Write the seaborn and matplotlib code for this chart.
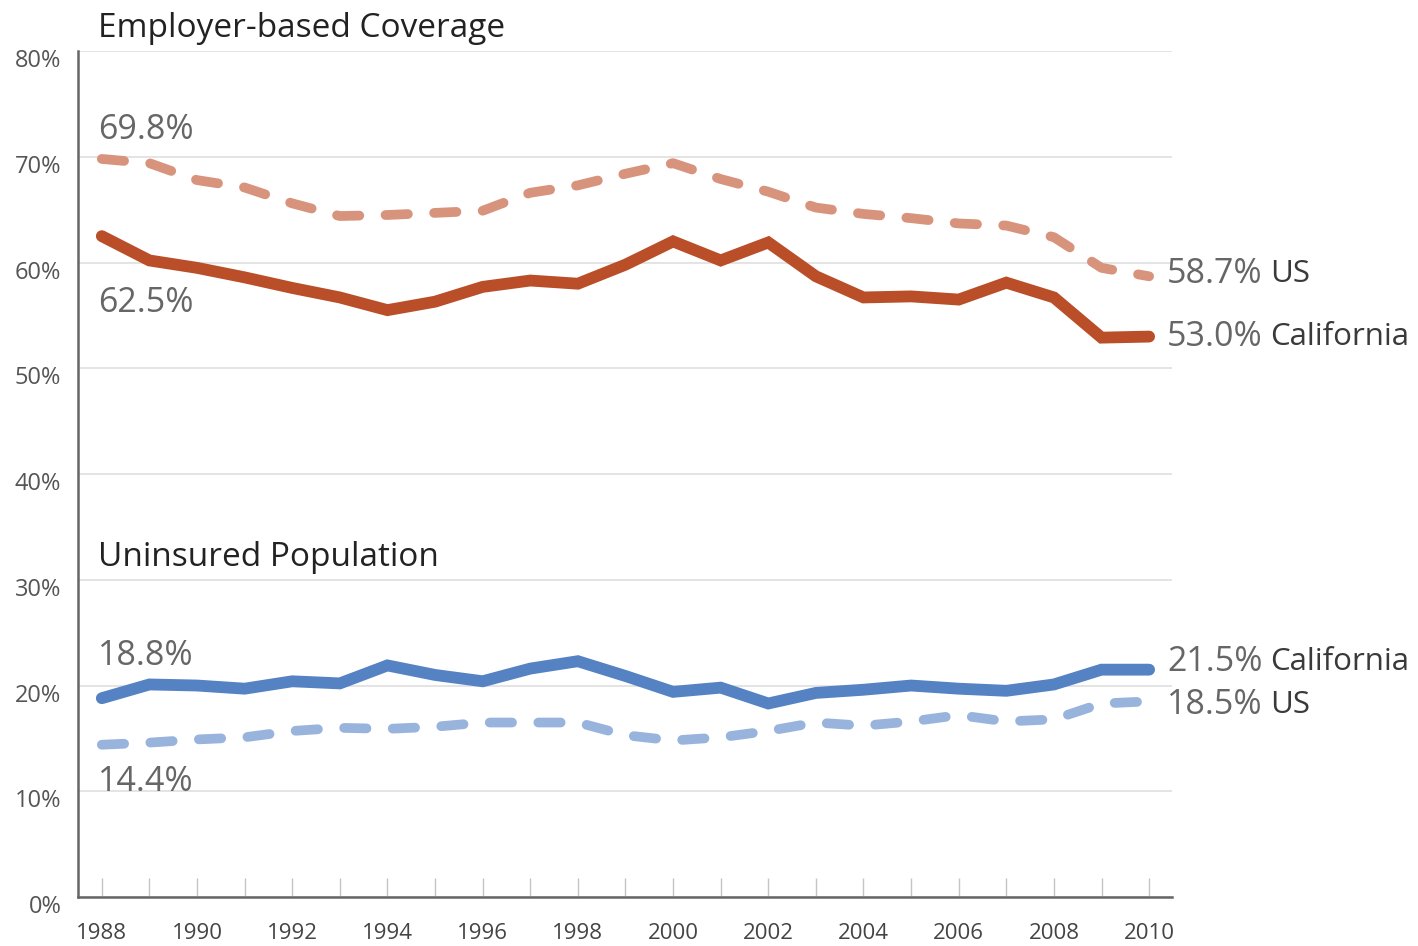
import numpy as np
import pandas as pd
import matplotlib
matplotlib.use("Agg")
import matplotlib.pyplot as plt
import matplotlib.transforms as mtransforms
import seaborn as sns

years = list(range(1988, 2011))

employer_us = [69.8, 69.4, 67.8, 67.1, 65.6, 64.4, 64.5, 64.7, 64.9, 66.6, 67.3, 68.4,
               69.4, 67.9, 66.7, 65.2, 64.6, 64.2, 63.7, 63.5, 62.4, 59.5, 58.7]
employer_ca = [62.5, 60.2, 59.5, 58.6, 57.6, 56.7, 55.5, 56.3, 57.7, 58.3, 58.0, 59.8,
               62.0, 60.2, 61.9, 58.7, 56.7, 56.8, 56.5, 58.1, 56.7, 52.9, 53.0]
uninsured_ca = [18.8, 20.1, 20.0, 19.7, 20.4, 20.2, 21.9, 21.0, 20.4, 21.6, 22.3, 20.9,
                19.4, 19.8, 18.3, 19.3, 19.6, 20.0, 19.7, 19.5, 20.1, 21.5, 21.5]
uninsured_us = [14.4, 14.6, 14.9, 15.1, 15.7, 16.0, 15.9, 16.1, 16.5, 16.5, 16.5, 15.3,
                14.8, 15.1, 15.7, 16.5, 16.2, 16.6, 17.2, 16.6, 16.8, 18.3, 18.5]

y_ticks = [0, 10, 20, 30, 40, 50, 60, 70, 80]

sns.set_style("white")
plt.rcParams['font.family'] = ['Open Sans', 'DejaVu Sans']

df = pd.DataFrame({
    "year": years,
    "employer_us": employer_us,
    "employer_ca": employer_ca,
    "uninsured_ca": uninsured_ca,
    "uninsured_us": uninsured_us,
})

fig = plt.figure(figsize=(14.18, 9.46), dpi=100)
ax = fig.add_axes([0.055, 0.0518, 0.7715, 0.8942])

dark_red = "#B94E28"
light_red = "#D8937C"
dark_blue = "#5482C2"
light_blue = "#98B4DC"
dash = (0, (2.3, 2.7))

sns.lineplot(data=df, x="year", y="employer_us", ax=ax, color=light_red, lw=7,
             linestyle=dash, dash_capstyle="round")
sns.lineplot(data=df, x="year", y="employer_ca", ax=ax, color=dark_red, lw=8.5,
             solid_capstyle="round", solid_joinstyle="miter")
sns.lineplot(data=df, x="year", y="uninsured_us", ax=ax, color=light_blue, lw=7,
             linestyle=dash, dash_capstyle="round")
sns.lineplot(data=df, x="year", y="uninsured_ca", ax=ax, color=dark_blue, lw=8.5,
             solid_capstyle="round", solid_joinstyle="miter")

ax.set_xlim(1987.5, 2010.48)
ax.set_ylim(0, 80)
ax.set_xlabel("")
ax.set_ylabel("")

ax.set_yticks(y_ticks)
ax.set_yticklabels([f"{v}%" for v in y_ticks])
ax.set_xticks(years)
ax.set_xticklabels([str(y) if y % 2 == 0 else "" for y in years])

ax.yaxis.grid(True, color="#dddddd", lw=1.1)
ax.xaxis.grid(False)
ax.tick_params(axis="y", length=0, pad=12, labelsize=17, labelcolor="#555555")
ax.tick_params(axis="x", direction="in", length=14, width=1, color="#c4c4c4",
               pad=19, labelsize=16, labelcolor="#444444", bottom=True)
shift = mtransforms.ScaledTranslation(0, -0.07, fig.dpi_scale_trans)
for lab in ax.get_yticklabels():
    lab.set_transform(lab.get_transform() + shift)
for s in ["top", "right"]:
    ax.spines[s].set_visible(False)
for s in ["left", "bottom"]:
    ax.spines[s].set_color("#666666")
    ax.spines[s].set_linewidth(1.8)

# section titles
ax.text(1987.92, 82.1, "Employer-based Coverage", fontsize=24, color="#222222",
        va="center", clip_on=False)
ax.text(1987.92, 32.1, "Uninsured Population", fontsize=24, color="#222222",
        va="center")

# start values
val_color = "#666666"
ax.text(1987.92, 72.5, f"{employer_us[0]:.1f}%", fontsize=24.5, color=val_color, va="center")
ax.text(1987.92, 56.2, f"{employer_ca[0]:.1f}%", fontsize=24.5, color=val_color, va="center")
ax.text(1987.92, 22.8, f"{uninsured_ca[0]:.1f}%", fontsize=24.5, color=val_color, va="center")
ax.text(1987.92, 10.9, f"{uninsured_us[0]:.1f}%", fontsize=24.5, color=val_color, va="center")

# end labels
end_labels = [(employer_us[-1], 58.9, "US"), (employer_ca[-1], 53.0, "California"),
              (uninsured_ca[-1], 22.2, "California"), (uninsured_us[-1], 18.2, "US")]
for v, ypos, name in end_labels:
    ax.text(2010.38, ypos, f"{v:.1f}%", fontsize=24.5, color=val_color, va="center", clip_on=False)
    ax.text(2012.55, ypos, name, fontsize=22.5, color="#3a3a3a", va="center", clip_on=False)

fig.savefig("out.png", dpi=100)
